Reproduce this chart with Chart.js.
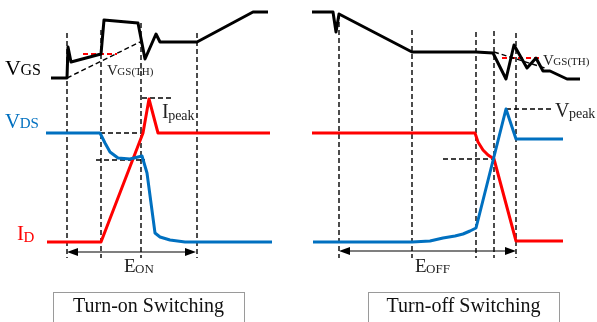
<!DOCTYPE html>
<html><head><meta charset="utf-8">
<script src="https://cdn.jsdelivr.net/npm/chart.js@4.4.0/dist/chart.umd.min.js"></script>
<style>html,body{margin:0;padding:0;background:#fff;overflow:hidden}#wrap{width:597px;height:322px}</style>
</head><body><div id="wrap"><canvas id="c" width="597" height="322"></canvas></div>
<script>
// ---- Turn-on waveforms (time t, level v; level axis points downward) ----
const vgsOnT = [51, 67, 68, 71, 101, 104, 138, 145, 156, 160, 197, 253, 268];
const vgsOnV = [78, 78, 47, 62, 54, 20, 23, 59, 34, 42, 42, 12, 12];
const vdsOnT = [46, 100, 105, 110, 118, 130, 142, 147, 155, 160, 170, 185, 196, 272];
const vdsOnV = [133, 133, 143, 152, 158, 159, 156, 173, 233, 237, 240, 242, 242, 242];
const idOnT = [47, 101, 143, 149, 158, 270];
const idOnV = [242, 242, 133, 99, 133, 133];
// ---- Turn-off waveforms ----
const vgsOffT = [312, 333, 336, 339, 412, 476, 493, 506, 514, 527, 536, 543, 550, 567, 580];
const vgsOffV = [12, 12, 32, 14, 52, 52, 53, 79, 45, 68, 58, 71, 71, 79, 79];
const vdsOffT = [313, 412, 430, 443, 455, 463, 470, 476, 506, 516, 563];
const vdsOffV = [242, 242, 241, 238, 236, 234, 231, 228, 109, 139, 139];
const idOffT = [312, 475, 478, 483, 488, 494, 516, 563];
const idOffV = [133, 133, 142, 150, 155, 159, 241, 241];
// ---- Reference (dashed) lines: [t1, v1, t2, v2] ----
const refBlack = [
  [67, 78, 140, 42], [100, 133, 142, 133], [96, 160, 145, 160], [142, 98, 172, 98],
  [494, 52, 545, 68], [506, 109, 553, 109], [443, 159, 495, 159]
];
const refRed = [[83, 54, 117, 54], [502, 58, 542, 58]];
const markerT = [67, 101, 141, 197, 339, 412, 476, 494, 516];
const markerTop = [33, 30, 23, 33, 14, 30, 32, 31, 33];
const markerBottom = 258;
// ---- Energy intervals ----
const energyStart = [67, 339];
const energyEnd = [196, 516];
const energyLevel = [252, 251];
// ---- Text labels ----
const labelMain = ['V', 'V', 'I', 'V', 'V', 'I', 'V', 'E', 'E'];
const labelSub = ['GS', 'DS', 'D', 'GS(TH)', 'GS(TH)', 'peak', 'peak', 'ON', 'OFF'];
const labelT = [5, 5, 17, 107, 543, 162, 555, 124, 415];
const labelV = [75, 128, 240, 75, 65, 118, 117, 272, 272];
const boxTitles = ['Turn-on Switching', 'Turn-off Switching'];
const boxStart = [53, 368];
const boxEnd = [244, 559];
const boxTop = 292;

const BLACK = '#000', RED = '#ff0000', BLUE = '#0070c0';
const zip = (t, v) => t.map((x, i) => ({x, y: v[i]}));
const datasets = [];
function solid(t, v, c) { datasets.push({data: zip(t, v), borderColor: c, borderWidth: 3, borderJoinStyle: 'round', order: 0}); }
function dashed(p, c, w) { datasets.push({data: [{x: p[0], y: p[1]}, {x: p[2], y: p[3]}], borderColor: c, borderWidth: w, borderDash: [5, 3], order: 1}); }
refBlack.forEach(p => dashed(p, BLACK, 1.4));
refRed.forEach(p => dashed(p, RED, 1.8));
markerT.forEach((t, i) => dashed([t, markerTop[i], t, markerBottom], BLACK, 1.4));
energyStart.forEach((t, i) => datasets.push({data: [{x: t + 6, y: energyLevel[i]}, {x: energyEnd[i] - 6, y: energyLevel[i]}], borderColor: BLACK, borderWidth: 1.2, order: 1}));
solid(vgsOnT, vgsOnV, BLACK); solid(vdsOnT, vdsOnV, BLUE); solid(idOnT, idOnV, RED);
solid(vgsOffT, vgsOffV, BLACK); solid(vdsOffT, vdsOffV, BLUE); solid(idOffT, idOffV, RED);

const colorOf = ['#000', BLUE, RED, '#222', '#222', '#222', '#222', '#222', '#222'];
const mainSize = [22, 21, 21, 15, 15, 20, 20, 19, 19];
const subSize = [16, 15, 15, 11, 11, 14, 14, 13, 13];
const subDrop = [0, 0, 2, 0, 0, 2, 1, 1, 1];

const decor = {
  id: 'decor',
  afterDatasetsDraw(chart) {
    const ctx = chart.ctx, xs = chart.scales.x, ys = chart.scales.y;
    ctx.save();
    ctx.fillStyle = '#000';
    energyStart.forEach((t, i) => {
      const y = ys.getPixelForValue(energyLevel[i]);
      const a = xs.getPixelForValue(t), b = xs.getPixelForValue(energyEnd[i]);
      ctx.beginPath(); ctx.moveTo(a, y); ctx.lineTo(a + 11, y - 4); ctx.lineTo(a + 11, y + 4); ctx.closePath(); ctx.fill();
      ctx.beginPath(); ctx.moveTo(b, y); ctx.lineTo(b - 11, y - 4); ctx.lineTo(b - 11, y + 4); ctx.closePath(); ctx.fill();
    });
    ctx.textBaseline = 'alphabetic'; ctx.textAlign = 'left';
    labelMain.forEach((m, i) => {
      const x = xs.getPixelForValue(labelT[i]), y = ys.getPixelForValue(labelV[i]);
      ctx.fillStyle = colorOf[i];
      ctx.font = mainSize[i] + 'px "Liberation Serif", "DejaVu Serif", serif';
      ctx.fillText(m, x, y);
      const w = ctx.measureText(m).width;
      ctx.font = subSize[i] + 'px "Liberation Serif", "DejaVu Serif", serif';
      ctx.fillText(labelSub[i], x + w - 0.5, y + subDrop[i]);
    });
    boxTitles.forEach((s, i) => {
      const a = xs.getPixelForValue(boxStart[i]), b = xs.getPixelForValue(boxEnd[i]);
      const top = ys.getPixelForValue(boxTop);
      ctx.strokeStyle = '#9a9a9a'; ctx.lineWidth = 1;
      ctx.strokeRect(a + 0.5, top + 0.5, b - a, 60);
      ctx.fillStyle = '#111';
      ctx.font = '20px "Liberation Serif", "DejaVu Serif", serif';
      ctx.textAlign = 'center';
      ctx.fillText(s, (a + b) / 2, top + 20);
      ctx.textAlign = 'left';
    });
    ctx.restore();
  }
};

new Chart(document.getElementById('c'), {
  type: 'line',
  data: {datasets},
  options: {
    responsive: false, animation: false, devicePixelRatio: 1,
    layout: {padding: 0},
    elements: {point: {radius: 0, hoverRadius: 0}, line: {tension: 0, fill: false}},
    plugins: {legend: {display: false}, tooltip: {enabled: false}},
    events: [],
    scales: {
      x: {type: 'linear', min: 0, max: 597, display: false},
      y: {type: 'linear', min: 0, max: 322, reverse: true, display: false}
    }
  },
  plugins: [decor]
});
</script>
</body></html>
